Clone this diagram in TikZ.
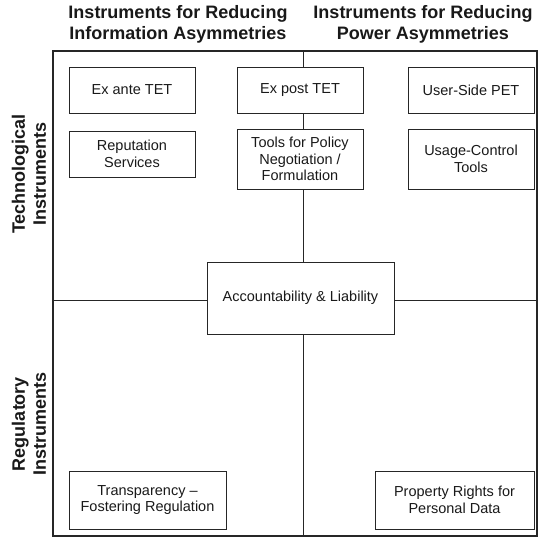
\documentclass[tikz,border=0pt]{standalone}
\usepackage{fontspec}
\setmainfont{Liberation Sans}
\begin{document}
\begin{tikzpicture}[x=1pt,y=-1pt,
  box/.style={draw=black!85, line width=0.8pt, inner sep=0pt, align=center,
    font=\fontsize{14.5}{16.5}\selectfont, text=black!90},
  small/.style={box, minimum width=126, minimum height=46},
  tall/.style={box, minimum width=126, minimum height=60},
  title/.style={align=center, inner sep=0pt, font=\fontsize{18}{21}\selectfont\bfseries, text=black!90},
  link/.style={draw=black!85, line width=0.8pt},
  frame/.style={draw=black!85, line width=1.1pt}]
\useasboundingbox (0,0) rectangle (541,540);
% frame
\draw[frame] (53,51) rectangle (537,536);
\coordinate (ftop) at (303,51);
\coordinate (fbot) at (303,536);
\coordinate (fleft) at (53,300);
\coordinate (fright) at (537,300);
% titles
\node[title, anchor=base] (t1) at (178,39.3) {Instruments for Reducing\\Information Asymmetries};
\node[title, anchor=base] (t2) at (423,39.3) {Instruments for Reducing\\Power Asymmetries};
\node[title, rotate=90] (s1) at (29,174) {Technological\\Instruments};
\node[title, rotate=90] (s2) at (29,424) {Regulatory\\Instruments};
% boxes
\node[small] (exante) at (132,90) {Ex ante TET};
\node[small] (rep) at (132,154) {Reputation\\Services};
\node[small] (expost) at (300,90) {Ex post TET};
\node[tall] (tools) at (300,159) {Tools for Policy\\Negotiation /\\Formulation};
\node[small] (user) at (471,90) {User-Side PET};
\node[tall] (usage) at (471,159) {Usage-Control\\Tools};
\node[box, minimum width=187, minimum height=72] (acc) at (300.5,298) {Accountability \& Liability};
\node[box, minimum width=157, minimum height=58] (transp) at (147.5,500) {Transparency~\textendash\\Fostering Regulation};
\node[box, minimum width=159, minimum height=58] (prop) at (454.5,500) {Property Rights for\\Personal Data};
% connectors
\draw[link] (ftop) -- (ftop |- expost.north);
\draw[link] (ftop |- expost.south) -- (ftop |- tools.north);
\draw[link] (ftop |- tools.south) -- (ftop |- acc.north);
\draw[link] (ftop |- acc.south) -- (fbot);
\draw[link] (fleft) -- (fleft -| acc.west);
\draw[link] (fright -| acc.east) -- (fright);
\end{tikzpicture}
\end{document}
